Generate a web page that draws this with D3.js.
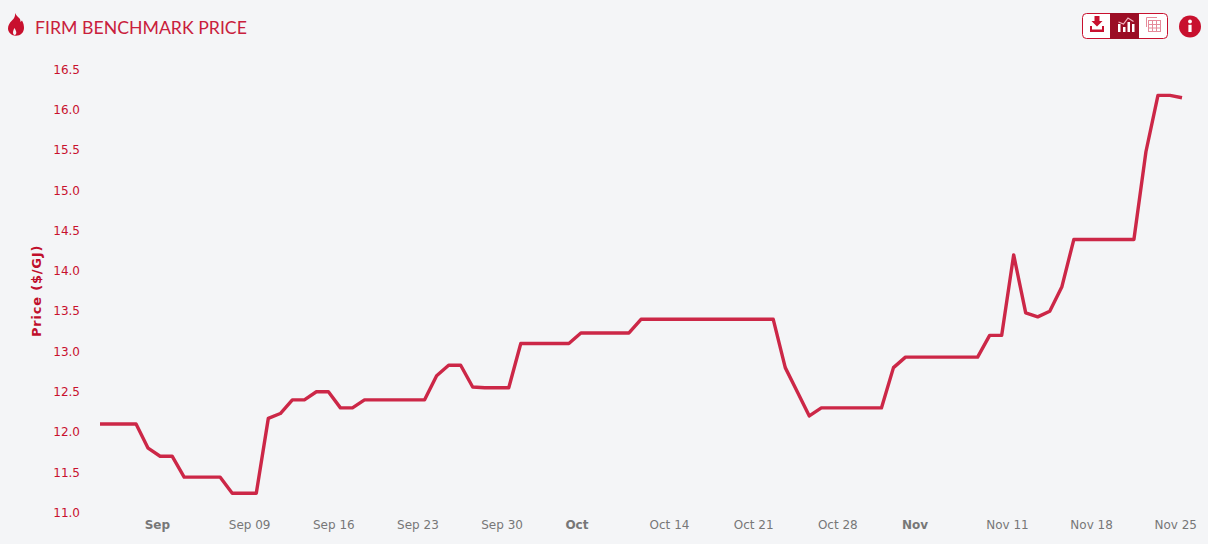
<!DOCTYPE html>
<html><head><meta charset="utf-8">
<script src="https://cdnjs.cloudflare.com/ajax/libs/d3/7.8.5/d3.min.js"></script>
<style>html,body{margin:0;padding:0;background:#f4f5f7;overflow:hidden}svg{display:block}text{font-family:"DejaVu Sans",sans-serif}</style>
</head><body><svg id="c" width="1208" height="544"></svg>
<script>
const startDate = "2024-08-27";
const values = [12.1,12.1,12.1,12.1,11.8,11.7,11.7,11.44,11.44,11.44,11.44,11.24,11.24,11.24,12.17,12.23,12.4,12.4,12.5,12.5,12.3,12.3,12.4,12.4,12.4,12.4,12.4,12.4,12.7,12.83,12.83,12.56,12.55,12.55,12.55,13.1,13.1,13.1,13.1,13.1,13.23,13.23,13.23,13.23,13.23,13.4,13.4,13.4,13.4,13.4,13.4,13.4,13.4,13.4,13.4,13.4,13.4,12.8,12.5,12.2,12.3,12.3,12.3,12.3,12.3,12.3,12.8,12.93,12.93,12.93,12.93,12.93,12.93,12.93,13.2,13.2,14.2,13.48,13.43,13.5,13.8,14.39,14.39,14.39,14.39,14.39,14.39,15.48,16.18,16.18,16.15];
const yTicks = [11,11.5,12,12.5,13,13.5,14,14.5,15,15.5,16,16.5];
const xTickDates = ["2024-09-02","2024-09-09","2024-09-16","2024-09-23","2024-09-30","2024-10-07","2024-10-14","2024-10-21","2024-10-28","2024-11-04","2024-11-11","2024-11-18","2024-11-25"];
const xTickLabels = ["Sep","Sep 09","Sep 16","Sep 23","Sep 30","Oct","Oct 14","Oct 21","Oct 28","Nov","Nov 11","Nov 18","Nov 25"];
const title = "FIRM BENCHMARK PRICE";
const yTitle = "Price ($/GJ)";

const red = "#c8102e", line = "#cc2747", dark = "#9b0d25";
const svg = d3.select("#c");
const day = d => new Date(d + "T00:00:00Z");
const dates = values.map((_, i) => d3.utcDay.offset(day(startDate), i));
const x = d3.scaleUtc().domain([dates[0], dates[dates.length - 1]]).range([100, 1182]);
const y = d3.scaleLinear().domain([11, 16.5]).range([512.6, 69.6]);

// y axis
const gy = svg.append("g").attr("transform", "translate(80,-0.6)")
  .call(d3.axisLeft(y).tickValues(yTicks).tickFormat(d3.format(".1f")).tickSize(0));
gy.select(".domain").remove();
gy.selectAll("text").attr("x", 0).attr("dy", "0.36em").attr("text-anchor", "end")
  .attr("fill", red).style("font-size", "12px");

// x axis
const gx = svg.append("g").attr("transform", "translate(0,529)")
  .call(d3.axisBottom(x).tickValues(xTickDates.map(day)).tickFormat((d, i) => xTickLabels[i]).tickSize(0));
gx.select(".domain").remove();
gx.selectAll("text").attr("y", 0).attr("dy", "0").attr("dx", -28).attr("text-anchor", "start")
  .attr("fill", "#777").style("font-size", "12px")
  .style("font-weight", (d, i) => xTickLabels[i].includes(" ") ? "normal" : "bold");

svg.append("text").attr("transform", "translate(41,291) rotate(-90)")
  .attr("text-anchor", "middle").attr("fill", "#c00f2c")
  .style("font-size", "13px").style("letter-spacing", "0.8px").style("font-weight", "bold").text(yTitle);

// line
svg.append("path").datum(values)
  .attr("fill", "none").attr("stroke", line).attr("stroke-width", 3.4)
  .attr("stroke-linejoin", "round")
  .attr("d", d3.line().x((d, i) => x(dates[i])).y(d => y(d)));

// title
svg.append("text").attr("x", 35).attr("y", 34).attr("fill", "#c9203c")
  .style("font-family", "Lato").style("font-size", "17.7px").text(title);

// flame icon
svg.append("path").attr("fill", red).attr("fill-rule", "evenodd")
  .attr("d", "M15 13C16.5 16 18.5 17.5 20 19C20.3 20 20.5 21 20.5 22C21 21.5 21.5 21 22 20.5C23.5 23 24 25.5 24 28C24 32.5 20.5 35.7 16 35.7C11.5 35.7 8 32.5 8 28.5C8 25.5 9.5 23 11.5 21C13.5 19 15.5 17 15 13ZM14.5 28C13.5 30 13 31 13 32.5C13 34 13.8 35 14.7 35C15.7 35 16.3 34 16.3 32.5C16.3 31 15.5 30 14.5 28Z");

// toolbar
const tb = svg.append("g");
tb.append("rect").attr("x", 1082.5).attr("y", 13.5).attr("width", 85).attr("height", 25).attr("rx", 4)
  .attr("fill", "#fff").attr("stroke", red);
tb.append("rect").attr("x", 1110).attr("y", 13).attr("width", 29).attr("height", 26).attr("fill", dark);
// download
tb.append("path").attr("fill", red).attr("d", "M1094.5 16H1099.5V21H1102.5L1097 26.5L1091.5 21H1094.5Z");
tb.append("path").attr("fill", red).attr("d", "M1090 26H1092V29.5H1102V26H1104V32H1090Z");
// chart icon
tb.selectAll("rect.b").data([[1118,24,2.5,8],[1123,27,2.5,5],[1127.5,22,2.5,10],[1132,24,2.5,8]]).join("rect")
  .attr("x", d => d[0]).attr("y", d => d[1]).attr("width", d => d[2]).attr("height", d => d[3]).attr("fill", "#fff");
tb.append("path").attr("fill", "none").attr("stroke", "#f2b5c0").attr("stroke-width", 1.2)
  .attr("d", "M1118.5 22L1123.5 24L1128 18L1133.5 21.5");
// table icon
const tg = tb.append("g").attr("stroke", "#e58a9a").attr("stroke-width", 1).attr("fill", "none");
tg.append("path").attr("d", "M1146.5 27V17.5H1157");
tg.append("rect").attr("x", 1148.5).attr("y", 20.5).attr("width", 12).attr("height", 11);
tg.append("path").attr("d", "M1152.5 20.5V31.5M1156.5 20.5V31.5M1148.5 24.5H1160.5M1148.5 28H1160.5");
// info
svg.append("circle").attr("cx", 1190).attr("cy", 26.5).attr("r", 11).attr("fill", red);
svg.append("circle").attr("cx", 1190).attr("cy", 21.5).attr("r", 1.9).attr("fill", "#fff");
svg.append("rect").attr("x", 1188.4).attr("y", 24.8).attr("width", 3.2).attr("height", 7.2).attr("fill", "#fff");
</script></body></html>
